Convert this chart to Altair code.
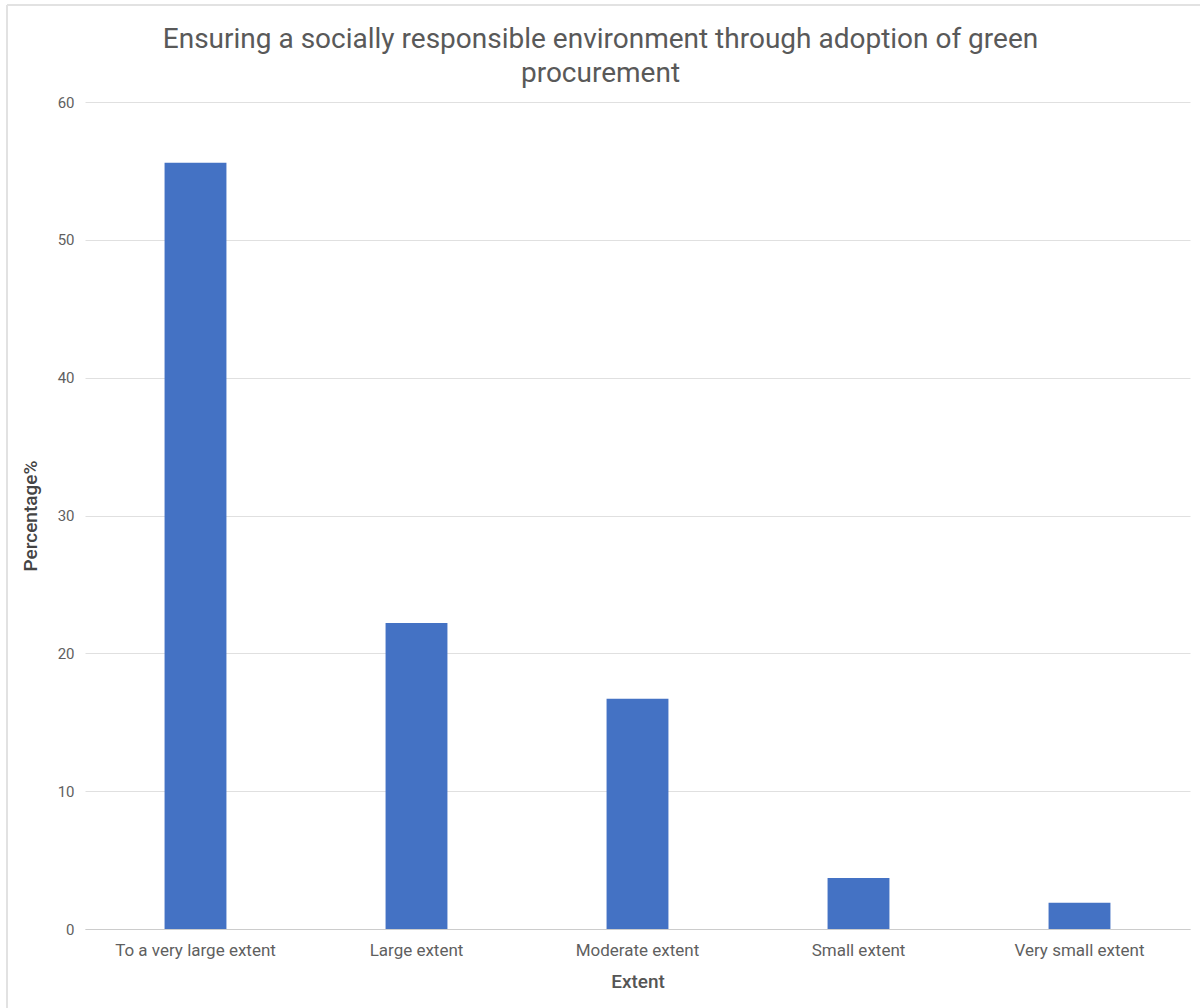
import altair as alt
import pandas as pd

# Share of respondents by extent of agreement
categories = [
    "To a very large extent",
    "Large extent",
    "Moderate extent",
    "Small extent",
    "Very small extent",
]
percentages = [55.6, 22.2, 16.7, 3.7, 1.9]

df = pd.DataFrame({"Extent": categories, "Percentage": percentages})

FONT = "Roboto"

bars = alt.Chart(df).mark_bar(color="#4472c4").encode(
    x=alt.X(
        "Extent:N",
        sort=categories,
        scale=alt.Scale(paddingInner=0.72, paddingOuter=0.36),
        axis=alt.Axis(
            title="Extent",
            labelAngle=0,
            labelFontSize=17,
            labelColor="#5f5f5f",
            labelPadding=13,
            ticks=False,
            domain=True,
            domainColor="#cccccc",
            titleFontSize=19,
            titleFontWeight=500,
            titleColor="#555555",
            titlePadding=14,
            grid=False,
        ),
    ),
    y=alt.Y(
        "Percentage:Q",
        scale=alt.Scale(domain=[0, 60], nice=False),
        axis=alt.Axis(
            title="Percentage%",
            values=[0, 10, 20, 30, 40, 50, 60],
            labelFontSize=15,
            labelColor="#5f5f5f",
            labelPadding=11,
            ticks=False,
            domain=False,
            gridColor="#e0e0e0",
            titleFontSize=19,
            titleFontWeight=500,
            titleColor="#444444",
            titlePadding=17,
        ),
    ),
)

# Thin outer frame along the left and top edges of the figure
frame_left = alt.Chart(df).mark_rule(color="#e2e2e2", strokeWidth=1.5).encode(
    x=alt.value(-78), y=alt.value(-97), y2=alt.value(906)
)
frame_top = alt.Chart(df).mark_rule(color="#e2e2e2", strokeWidth=1.5).encode(
    x=alt.value(-78), x2=alt.value(1115), y=alt.value(-97)
)

# The frame rule at the top sets the group's upper bound, so the title
# offset is measured back down from there.
chart = alt.layer(bars, frame_left, frame_top).properties(
    width=1105,
    height=827,
    title=alt.TitleParams(
        text=[
            "Ensuring  a socially responsible environment through adoption of green",
            "procurement",
        ],
        anchor="middle",
        frame="group",
        fontSize=28,
        fontWeight="normal",
        color="#595959",
        font=FONT,
        lineHeight=34,
        offset=-84,
        dx=-37,
    ),
    autosize=alt.AutoSizeParams(type="none"),
    padding={"left": 85, "top": 102, "right": 10, "bottom": 79},
).configure(
    font=FONT,
    background="white",
).configure_view(
    stroke=None,
)

chart.save("out.html", embed_options={"renderer": "svg", "actions": False})
